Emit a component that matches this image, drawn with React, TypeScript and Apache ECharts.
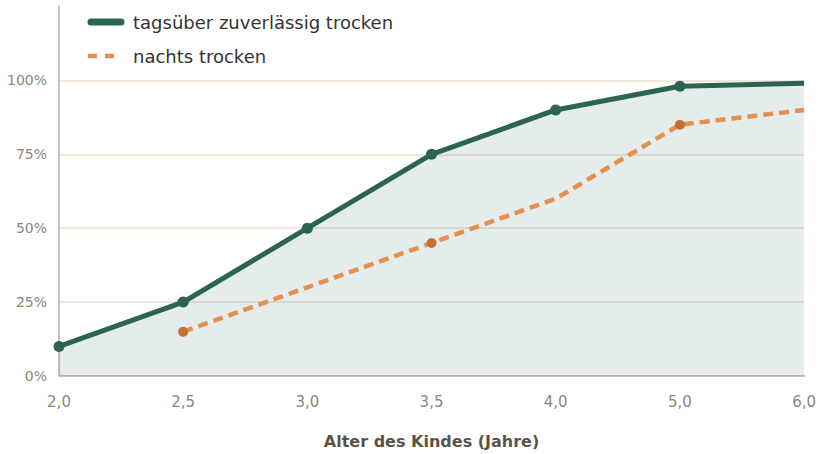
import React, { useEffect, useRef } from "react";
import * as echarts from "echarts";

const categories = ["2,0", "2,5", "3,0", "3,5", "4,0", "5,0", "6,0"];
const dayDry = [10, 25, 50, 75, 90, 98, 99];
const dayMarkers = [true, true, true, true, true, true, false];
const nightDry: (number | null)[] = [null, 15, 30, 45, 60, 85, 90];
const nightMarkers = [false, true, false, true, false, true, false];
const yTicks = [0, 25, 50, 75, 100];

const GREEN = "#2b6453";
const ORANGE = "#e68f50";
const ORANGE_DOT = "#c96e37";
const FONT = "'DejaVu Sans', 'Noto Sans', sans-serif";

export default function App() {
  const ref = useRef<HTMLDivElement>(null);
  useEffect(() => {
    if (!ref.current) return;
    const chart = echarts.init(ref.current, undefined, { renderer: "svg" });
    chart.setOption({
      animation: false,
      grid: { left: 59, right: 14, top: 6.5, bottom: 70 },
      xAxis: {
        type: "category",
        data: categories,
        boundaryGap: false,
        axisLine: { lineStyle: { color: "#cbc3b3", width: 2 } },
        axisTick: { show: false },
        axisLabel: { color: "#8c867b", fontSize: 15, fontFamily: FONT, margin: 18 },
        name: "Alter des Kindes (Jahre)",
        nameLocation: "middle",
        nameGap: 57,
        nameTextStyle: { color: "#5a5346", fontSize: 16, fontWeight: "bold", fontFamily: FONT },
        splitLine: { show: false },
      },
      yAxis: {
        type: "value",
        min: 0,
        max: 125,
        interval: 25,
        axisLine: { show: true, lineStyle: { color: "#cbc3b3", width: 2 } },
        axisTick: { show: false },
        axisLabel: {
          color: "#8c867b",
          fontSize: 14,
          fontFamily: FONT,
          margin: 12,
          formatter: (v: number) => (yTicks.includes(v) ? v + "%" : ""),
        },
        splitLine: {
          lineStyle: {
            color: ["#efe7da", "#efe7da", "#efe7da", "#efe7da", "#efe7da", "rgba(0,0,0,0)"],
            width: 2,
          },
        },
      },
      series: [
        {
          name: "tagsüber zuverlässig trocken",
          type: "line",
          data: dayDry.map((v, i) => ({ value: v, symbolSize: dayMarkers[i] ? 11 : 0 })),
          symbol: "circle",
          showAllSymbol: true,
          lineStyle: { color: GREEN, width: 5 },
          itemStyle: { color: GREEN },
          areaStyle: { color: "rgba(43,110,95,0.125)", opacity: 1 },
          z: 2,
        },
        {
          name: "nachts trocken",
          type: "line",
          data: nightDry.map((v, i) => ({ value: v, symbolSize: nightMarkers[i] ? 10 : 0 })),
          symbol: "circle",
          showAllSymbol: true,
          lineStyle: { color: ORANGE, width: 4.5, type: [10, 6] },
          itemStyle: { color: ORANGE_DOT },
          z: 4,
        },
      ],
      graphic: [
        {
          type: "line",
          shape: { x1: 91, y1: 22, x2: 121, y2: 22 },
          style: { stroke: GREEN, lineWidth: 7, lineCap: "round" },
        },
        {
          type: "text",
          x: 133,
          y: 22,
          style: { text: "tagsüber zuverlässig trocken", fill: "#333333", fontSize: 18, fontFamily: FONT, verticalAlign: "middle" },
        },
        {
          type: "line",
          shape: { x1: 88, y1: 56, x2: 116, y2: 56 },
          style: { stroke: ORANGE, lineWidth: 4.5, lineDash: [9, 8], lineCap: "butt" },
        },
        {
          type: "text",
          x: 133,
          y: 56,
          style: { text: "nachts trocken", fill: "#333333", fontSize: 18, fontFamily: FONT, verticalAlign: "middle" },
        },
      ],
    });
    return () => chart.dispose();
  }, []);
  return <div ref={ref} style={{ width: 819, height: 454, position: "absolute", left: 0, top: 0 }} />;
}
